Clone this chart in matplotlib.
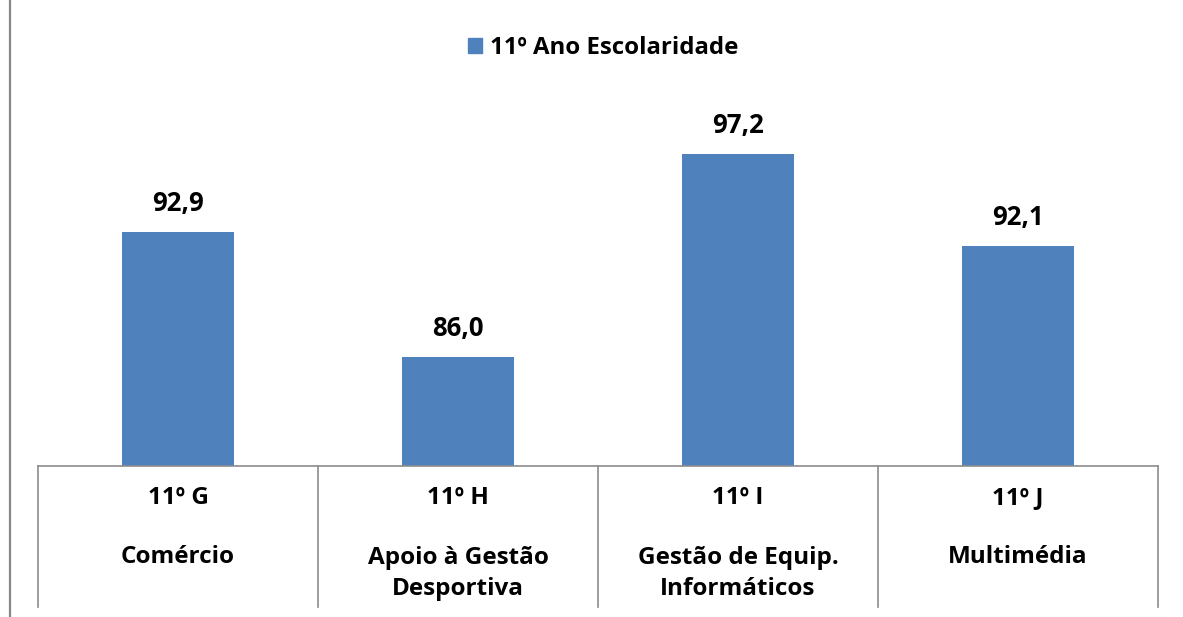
import matplotlib
matplotlib.use('Agg')
import matplotlib.pyplot as plt
from matplotlib.lines import Line2D
from matplotlib.patches import Patch

turmas = ['11º G', '11º H', '11º I', '11º J']
cursos = ['Comércio', 'Apoio à Gestão\nDesportiva', 'Gestão de Equip.\nInformáticos', 'Multimédia']
valores = [92.9, 86.0, 97.2, 92.1]
serie = '11º Ano Escolaridade'

W, H = 1183, 617
plt.rcParams['font.family'] = ['Open Sans', 'DejaVu Sans']
plt.rcParams['font.weight'] = 'bold'

fig = plt.figure(figsize=(W / 100, H / 100), dpi=100)
# eixo: x de 38 a 1158 px, y de 103 (100) a 466 (80) px
ax = fig.add_axes([38 / W, 1 - 466 / H, (1158 - 38) / W, (466 - 103) / H])

x = list(range(len(valores)))
ax.bar(x, valores, width=0.4, color='#4F81BD', label=serie)
ax.set_xlim(-0.5, len(valores) - 0.5)
ax.set_ylim(80, 100)
for s in ax.spines.values():
	s.set_visible(False)
ax.set_xticks([])
ax.set_yticks([])

for i, v in enumerate(valores):
	ax.annotate(f'{v:.1f}'.replace('.', ','), (i, v), xytext=(0, 20.5),
		textcoords='offset points', ha='center', va='center',
		fontsize=18.5, fontweight='bold')

# tabela das categorias
tr = ax.get_xaxis_transform()
h_ax = 466 - 103
def fy(py):
	return -(py - 466) / h_ax
cor = '#8c8c8c'
ax.add_line(Line2D([-0.5, len(valores) - 0.5], [0, 0], transform=tr, color=cor, lw=1.2, clip_on=False))
for b in range(len(valores) + 1):
	ax.add_line(Line2D([b - 0.5, b - 0.5], [0, fy(607)], transform=tr, color=cor, lw=1.2, clip_on=False))
for i in range(len(valores)):
	ax.text(i, fy(498), turmas[i], transform=tr, ha='center', va='center', fontsize=17.5, fontweight='bold')
	n = cursos[i].count('\n')
	ax.text(i, fy(557 + 16.5 * n), cursos[i], transform=tr, ha='center', va='center', fontsize=17.5,
		fontweight='bold', linespacing=1.36)

# linha vertical à esquerda
fig.add_artist(Line2D([9.5 / W, 9.5 / W], [0, 1], color='#888888', lw=1.6))

fig.legend(handles=[Patch(color='#4F81BD', label=serie)], loc='center',
	bbox_to_anchor=(603 / W, 1 - 48 / H), frameon=False,
	handlelength=0.6, handleheight=0.6, handletextpad=0.3,
	prop={'weight': 'bold', 'size': 17.3})

fig.savefig('out.png', dpi=100)
